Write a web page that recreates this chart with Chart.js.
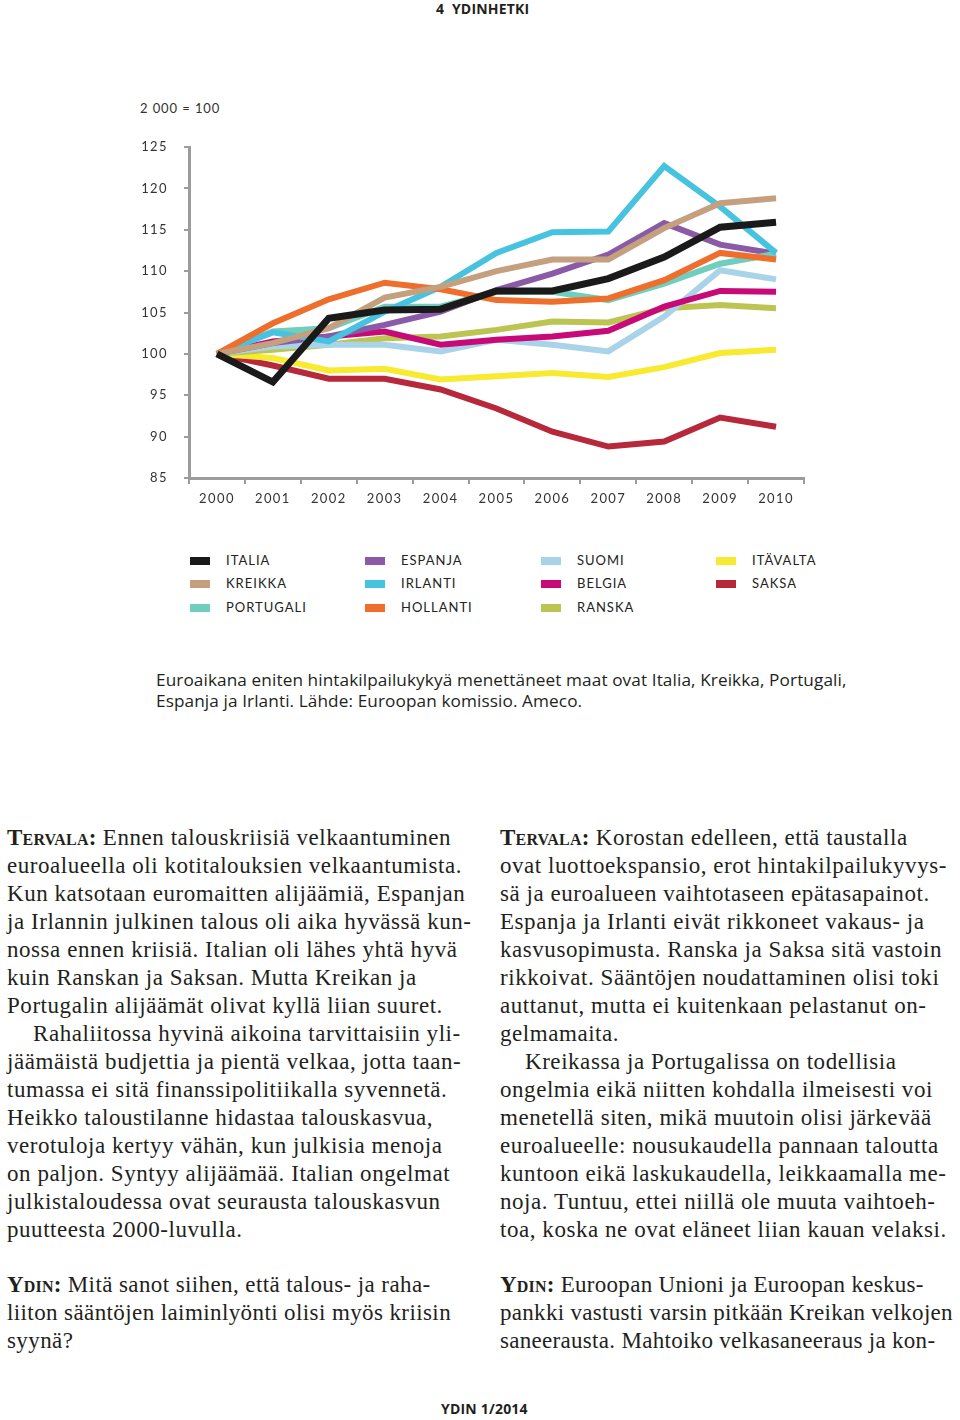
<!DOCTYPE html>
<html>
<head>
<meta charset="utf-8">
<script src="https://cdn.jsdelivr.net/npm/chart.js@4.4.1/dist/chart.umd.min.js"></script>
<style>
  html, body { margin: 0; padding: 0; background: #fff; }
  body { width: 960px; height: 1420px; position: relative; overflow: hidden; color: #231f20; }
  .abs { position: absolute; white-space: nowrap; }
  #chartWrap { position: absolute; left: 0; top: 0; width: 960px; height: 540px; }
  .sans { font-family: "Open Sans", Lato, sans-serif; }
  .hdr { font-weight: 700; font-size: 14px; letter-spacing: 0.2px; }
  .base { font-family: Lato, sans-serif; font-size: 13px; letter-spacing: 0.9px; color: #333; }
  .leg { position: absolute; font-family: Lato, sans-serif; font-size: 13px; letter-spacing: 1.0px; color: #222; }
  .sw { position: absolute; width: 20px; height: 8px; }
  .cap { font-family: "Open Sans", sans-serif; font-size: 17.2px; line-height: 21px; color: #231f20; letter-spacing: 0.1px; }
  .col { position: absolute; font-family: "Liberation Serif", "Times New Roman", serif; font-size: 23px; line-height: 28px; letter-spacing: 0.55px; color: #231f20; white-space: nowrap; }
  .sc { font-variant: small-caps; font-weight: 700; letter-spacing: 0.2px; }
  .ind { display: inline-block; }
</style>
</head>
<body>
<div class="abs sans hdr" style="left:436px; top:-1px;">4&nbsp; YDINHETKI</div>
<div class="abs base" style="left:140px; top:100px;">2 000 = 100</div>

<div id="chartWrap"><canvas id="c" width="960" height="540"></canvas></div>

<div id="legend"></div>

<div class="abs cap" style="left:156px; top:669px;">Euroaikana eniten hintakilpailukykyä menettäneet maat ovat Italia, Kreikka, Portugali,<br>Espanja ja Irlanti. Lähde: Euroopan komissio. Ameco.</div>

<div class="col" style="left:7px; top:824px;">
<span class="sc">Tervala:</span> Ennen talouskriisiä velkaantuminen<br>
euroalueella oli kotitalouksien velkaantumista.<br>
Kun katsotaan euromaitten alijäämiä, Espanjan<br>
ja Irlannin julkinen talous oli aika hyvässä kun-<br>
nossa ennen kriisiä. Italian oli lähes yhtä hyvä<br>
kuin Ranskan ja Saksan. Mutta Kreikan ja<br>
Portugalin alijäämät olivat kyllä liian suuret.<br>
<span class="ind" style="width:26px"></span>Rahaliitossa hyvinä aikoina tarvittaisiin yli-<br>
jäämäistä budjettia ja pientä velkaa, jotta taan-<br>
tumassa ei sitä finanssipolitiikalla syvennetä.<br>
Heikko taloustilanne hidastaa talouskasvua,<br>
verotuloja kertyy vähän, kun julkisia menoja<br>
on paljon. Syntyy alijäämää. Italian ongelmat<br>
julkistaloudessa ovat seurausta talouskasvun<br>
puutteesta 2000-luvulla.
</div>

<div class="col" style="left:500px; top:824px;">
<span class="sc">Tervala:</span> Korostan edelleen, että taustalla<br>
ovat luottoekspansio, erot hintakilpailukyvys-<br>
sä ja euroalueen vaihtotaseen epätasapainot.<br>
Espanja ja Irlanti eivät rikkoneet vakaus- ja<br>
kasvusopimusta. Ranska ja Saksa sitä vastoin<br>
rikkoivat. Sääntöjen noudattaminen olisi toki<br>
auttanut, mutta ei kuitenkaan pelastanut on-<br>
gelmamaita.<br>
<span class="ind" style="width:25px"></span>Kreikassa ja Portugalissa on todellisia<br>
ongelmia eikä niitten kohdalla ilmeisesti voi<br>
menetellä siten, mikä muutoin olisi järkevää<br>
euroalueelle: nousukaudella pannaan taloutta<br>
kuntoon eikä laskukaudella, leikkaamalla me-<br>
noja. Tuntuu, ettei niillä ole muuta vaihtoeh-<br>
toa, koska ne ovat eläneet liian kauan velaksi.
</div>

<div class="col" style="left:7px; top:1271px; letter-spacing:0.4px;">
<span class="sc">Ydin:</span> Mitä sanot siihen, että talous- ja raha-<br>
liiton sääntöjen laiminlyönti olisi myös kriisin<br>
syynä?
</div>
<div class="col" style="left:500px; top:1271px; letter-spacing:0.3px;">
<span class="sc">Ydin:</span> Euroopan Unioni ja Euroopan keskus-<br>
pankki vastusti varsin pitkään Kreikan velkojen<br>
saneerausta. Mahtoiko velkasaneeraus ja kon-
</div>

<div class="abs sans hdr" style="left:441px; top:1399px;">YDIN 1/2014</div>

<script>
// ---- data ----
const years = ['2000','2001','2002','2003','2004','2005','2006','2007','2008','2009','2010'];
const yTicks = [85, 90, 95, 100, 105, 110, 115, 120, 125];

const italia    = [100, 96.6, 104.3, 105.3, 105.4, 107.6, 107.6, 109.1, 111.7, 115.3, 115.9];
const kreikka   = [100, 101.3, 103.1, 106.8, 108.1, 110.0, 111.4, 111.4, 115.2, 118.2, 118.8];
const portugali = [100, 102.7, 103.1, 105.7, 105.7, 107.5, 107.5, 106.5, 108.5, 110.9, 112.1];
const espanja   = [100, 101.3, 102.1, 103.5, 105.1, 107.7, 109.7, 112.0, 115.8, 113.2, 112.1];
const irlanti   = [100, 102.6, 101.5, 105.1, 108.1, 112.2, 114.7, 114.8, 122.7, 117.8, 112.2];
const hollanti  = [100, 103.7, 106.6, 108.6, 107.8, 106.5, 106.3, 106.7, 108.9, 112.2, 111.4];
const suomi     = [100, 100.9, 101.1, 101.1, 100.3, 101.7, 101.1, 100.3, 104.5, 110.1, 109.0];
const belgia    = [100, 101.5, 102.1, 102.7, 101.1, 101.7, 102.1, 102.8, 105.7, 107.6, 107.5];
const ranska    = [100, 100.5, 101.1, 101.9, 102.1, 102.9, 103.9, 103.8, 105.5, 105.9, 105.5];
const itavalta  = [100, 99.5, 98.0, 98.2, 96.9, 97.3, 97.7, 97.2, 98.4, 100.1, 100.5];
const saksa     = [100, 98.6, 97.0, 97.0, 95.7, 93.4, 90.6, 88.8, 89.4, 92.3, 91.2];

const names  = ['ITALIA','KREIKKA','PORTUGALI','ESPANJA','IRLANTI','HOLLANTI','SUOMI','BELGIA','RANSKA','ITÄVALTA','SAKSA'];
const series = [italia, kreikka, portugali, espanja, irlanti, hollanti, suomi, belgia, ranska, itavalta, saksa];
const colors = ['#1b1a1a','#c4a07f','#6fcebe','#8a5aa7','#47c3e0','#ee6f2d','#a8d3e8','#c80a79','#bdc552','#f7ea31','#b7283a'];
const drawOrder = [0, 1, 4, 5, 3, 2, 7, 6, 8, 9, 10];

// ---- legend (column-major, 3 rows) ----
const legend = document.getElementById('legend');
const colX = [190, 365, 541, 716];
const rowY = [561, 584, 608];
names.forEach((n, i) => {
  const c = Math.floor(i / 3), r = i % 3;
  const sw = document.createElement('div');
  sw.className = 'sw';
  sw.style.left = colX[c] + 'px';
  sw.style.top = (rowY[r] - 4) + 'px';
  sw.style.background = colors[i];
  legend.appendChild(sw);
  const t = document.createElement('div');
  t.className = 'leg';
  t.textContent = n;
  t.style.left = (colX[c] + 36) + 'px';
  t.style.top = (rowY[r] - 9) + 'px';
  legend.appendChild(t);
});

// ---- chart ----
const axisGrey = '#9c9c9c';
const spacing = {
  id: 'spacing',
  beforeDraw(chart) { chart.ctx.letterSpacing = '1.4px'; }
};

new Chart(document.getElementById('c'), {
  type: 'line',
  data: {
    labels: years,
    datasets: series.map((d, i) => ({
      label: names[i],
      data: d,
      borderColor: colors[i],
      backgroundColor: colors[i],
      borderWidth: i === 0 ? 7 : 6,
      borderJoinStyle: 'miter',
      borderCapStyle: 'butt',
      pointRadius: 0,
      tension: 0,
      fill: false,
      order: drawOrder[i]
    }))
  },
  options: {
    responsive: false,
    animation: false,
    events: [],
    layout: { padding: { top: 147, right: 156, left: 0, bottom: 0 } },
    plugins: { legend: { display: false }, tooltip: { enabled: false } },
    scales: {
      x: {
        type: 'category',
        offset: true,
        grid: { offset: true, drawOnChartArea: false, tickLength: 6, color: axisGrey, lineWidth: 2 },
        border: { color: axisGrey, width: 3 },
        ticks: { color: '#333', font: { family: 'Lato', size: 13 }, padding: 7, maxRotation: 0, autoSkip: false },
        afterFit(s) { s.height = 62; }
      },
      y: {
        min: yTicks[0],
        max: yTicks[yTicks.length - 1],
        afterBuildTicks(s) { s.ticks = yTicks.map(v => ({ value: v })); },
        grid: { drawOnChartArea: false, tickLength: 5, color: axisGrey, lineWidth: 2 },
        border: { color: axisGrey, width: 3 },
        ticks: { color: '#333', font: { family: 'Lato', size: 13 }, padding: 16 },
        afterFit(s) { s.width = 189; }
      }
    }
  },
  plugins: [spacing]
});
</script>
</body>
</html>
